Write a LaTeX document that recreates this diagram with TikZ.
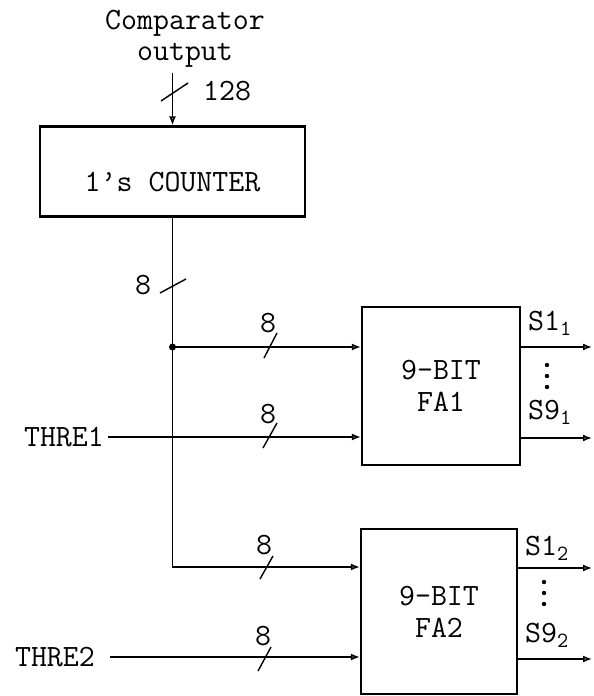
\documentclass[tikz,border=0pt]{standalone}
\usepackage{fontspec}
\usetikzlibrary{arrows.meta}

\begin{document}
\begin{tikzpicture}[x=1pt, y=-1pt, line width=1.6pt,
    font=\ttfamily\fontsize{31}{32}\selectfont,
    block/.style={draw, line width=2.2pt, inner sep=0pt},
    sig/.style={-{Latex[open, length=9pt, width=7pt]}},
    tick/.style={line width=1.4pt}]
    \useasboundingbox (0,0) rectangle (594,696);

    % blocks
    \node[block, minimum width=265pt, minimum height=90pt] (cnt) at (172.5,171.5) {};
    \node (cntlbl) at ([yshift=-11pt]cnt.center) {1’s COUNTER};
    \node[block, minimum width=158pt, minimum height=158pt, align=center] (fa1) at (441,386) {9-BIT\\FA1};
    \node[block, minimum width=156pt, minimum height=165pt, align=center] (fa2) at (439,611.5) {9-BIT\\FA2};

    % comparator input
    \node[anchor=base, inner sep=0pt] (cmp) at (185,29) {Comparator};
    \node[anchor=base, inner sep=0pt] (cmpout) at (185,60) {output};
    \coordinate (cin) at (172.5,73);
    \draw[sig] (cin) -- (cnt.north);
    \draw[tick] (161,101) -- (188,83);
    \node[anchor=west] (n128) at (199,91) {128};

    % counter output bus
    \coordinate (jn) at (172.5,347);
    \coordinate (bend) at (172.5,567);
    \draw[sig] (cnt.south) -- (bend) -- (bend -| fa2.west);
    \draw[sig] (jn) -- (jn -| fa1.west);
    \fill (jn) circle (3.5pt);
    \draw[tick] (160,293) -- (186,279);
    \node (n8a) at (143,285) {8};

    % thresholds
    \node[anchor=east] (th1) at (108,437) {THRE1};
    \node[anchor=east] (th2) at (99,657) {THRE2};
    \coordinate (t1) at (th1.east);
    \coordinate (t2) at ([xshift=11pt]th2.east);
    \draw[sig] (t1) -- (t1 -| fa1.west);
    \draw[sig] (t2) -- (t2 -| fa2.west);

    % bus widths
    \draw[tick] (264,358) -- (277,333);
    \node (n8b) at (268,323) {8};
    \draw[tick] (263,448) -- (277,423);
    \node (n8c) at (268,414) {8};
    \draw[tick] (260,579) -- (273,556);
    \node (n8d) at (264,545) {8};
    \draw[tick] (258,671) -- (271,647);
    \node (n8e) at (263,636) {8};

    % sums
    \coordinate (s11) at (592,347);
    \coordinate (s91) at (592,438);
    \coordinate (s12) at (592,568);
    \coordinate (s92) at (592,659);
    \draw[sig] (fa1.east |- s11) -- (s11);
    \draw[sig] (fa1.east |- s91) -- (s91);
    \draw[sig] (fa2.east |- s12) -- (s12);
    \draw[sig] (fa2.east |- s92) -- (s92);
    \node[anchor=west] (l11) at (524,323) {S1\textsubscript{1}};
    \node[anchor=west] (l91) at (524,412) {S9\textsubscript{1}};
    \node[anchor=west] (l12) at (521,548) {S1\textsubscript{2}};
    \node[anchor=west] (l92) at (521,635) {S9\textsubscript{2}};
    \foreach \y in {365,376,387} \fill (547,\y) circle (2.2pt);
    \foreach \y in {582,593,604} \fill (544,\y) circle (2.2pt);
\end{tikzpicture}
\end{document}
